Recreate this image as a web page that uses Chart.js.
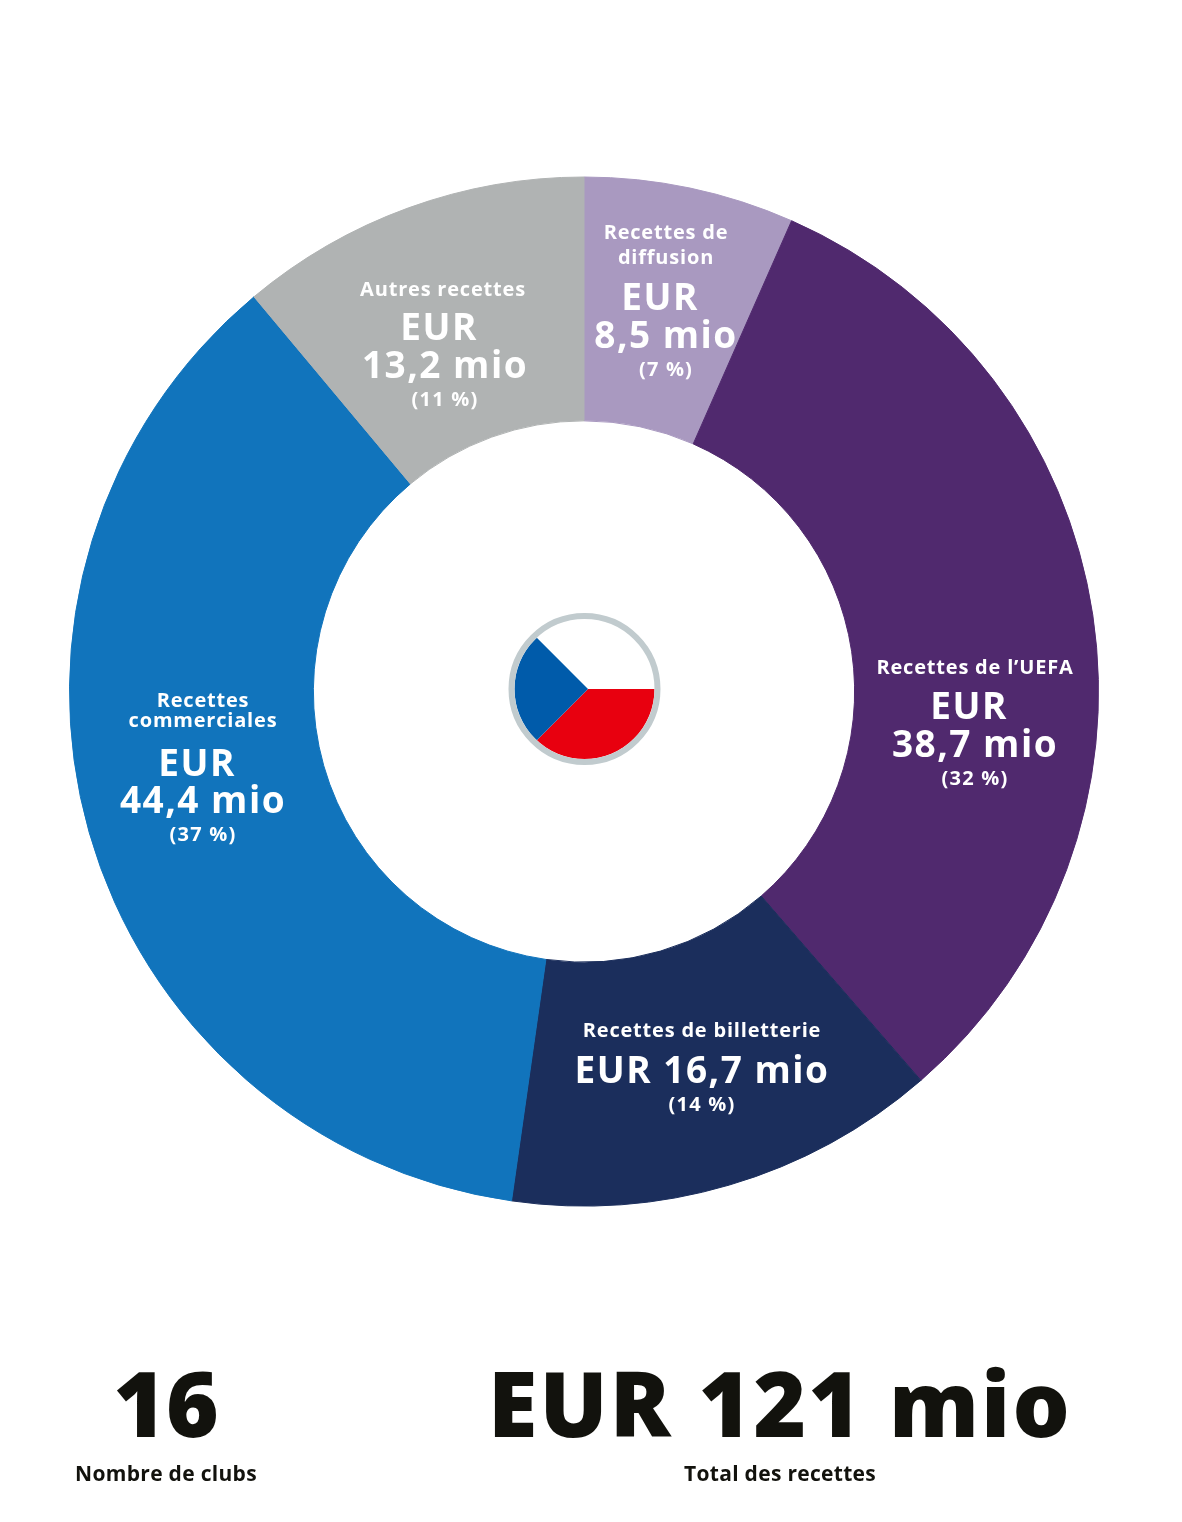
<!DOCTYPE html>
<html lang="fr">
<head>
<meta charset="utf-8">
<title>Recettes</title>
<script src="https://cdn.jsdelivr.net/npm/chart.js@4"></script>
<style>
  html, body { margin: 0; padding: 0; background: #fff; }
  #wrap { position: relative; width: 1182px; height: 1522px; overflow: hidden; }
  canvas { position: absolute; display: block; }
  #graficoFlag { left: 498px; top: 599px; }
</style>
</head>
<body>
<div id="wrap">
  <canvas id="grafico" width="1182" height="1522"></canvas>
  <canvas id="graficoFlag" width="180" height="180"></canvas>
</div>
<script>
const categories = ['Recettes de diffusion', 'Recettes de l’UEFA', 'Recettes de billetterie', 'Recettes commerciales', 'Autres recettes'];
// printed amounts and shares, used for the labels
const values = [8.5, 38.7, 16.7, 44.4, 13.2];
const percents = [7, 32, 14, 37, 11];
// slice sizes in degrees as measured on the picture (its arcs differ a little from the printed amounts)
const sliceDegrees = [23.8, 115.3, 49, 132, 39.9];
const colors = ['#a999c0', '#50296e', '#1b2e5c', '#1174bc', '#b0b3b3'];

const flagLabels = ['Blanc', 'Rouge', 'Bleu'];
const flagDegrees = [135, 135, 90];
const flagColors = ['#ffffff', '#e8000f', '#005baa'];

const clubCount = '16';
const clubCaption = 'Nombre de clubs';
const totalText = 'EUR 121 mio';
const totalCaption = 'Total des recettes';

const FONT = '"Open Sans", sans-serif';

function mio(i) {
    return String(values[i]).replace('.', ',') + ' mio';
}
function pct(i) {
    return '(' + percents[i] + ' %)';
}

// text, center x, baseline y, size, letter spacing
const TITLE = [20, 0.8];
const AMOUNT = [37, 1.5];
const SHARE = [20, 1.2];
const texts = [
    ['Recettes de', 666, 239, TITLE], ['diffusion', 666, 264, TITLE],
    ['EUR', 660, 310, AMOUNT], [mio(0), 666, 348, AMOUNT], [pct(0), 666, 376, SHARE],

    ['Autres recettes', 443, 296, TITLE],
    ['EUR', 439, 340, AMOUNT], [mio(4), 445, 378, AMOUNT], [pct(4), 445, 406, SHARE],

    ['Recettes de l’UEFA', 975, 674, TITLE],
    ['EUR', 969, 719, AMOUNT], [mio(1), 975, 757, AMOUNT], [pct(1), 975, 785, SHARE],

    ['Recettes de billetterie', 702, 1037, TITLE],
    ['EUR ' + mio(2), 702, 1083, AMOUNT], [pct(2), 702, 1111, SHARE],

    ['Recettes', 203, 707, TITLE], ['commerciales', 203, 727, TITLE],
    ['EUR', 197, 776, AMOUNT], [mio(3), 203, 813, AMOUNT], [pct(3), 203, 841, SHARE]
];

const labelsPlugin = {
    id: 'labels',
    afterDraw(chart) {
        const c = chart.ctx;
        c.save();
        c.textAlign = 'center';
        c.textBaseline = 'alphabetic';
        c.fillStyle = '#ffffff';
        texts.forEach(function(t) {
            c.font = '700 ' + t[3][0] + 'px ' + FONT;
            c.letterSpacing = t[3][1] + 'px';
            c.fillText(t[0], t[1], t[2]);
        });
        c.fillStyle = '#12120d';
        c.font = '800 90px ' + FONT;
        c.letterSpacing = '0px';
        c.fillText(clubCount, 166, 1437);
        c.letterSpacing = '2.2px';
        c.fillText(totalText, 780, 1437);
        c.font = '700 21px ' + FONT;
        c.letterSpacing = '0.3px';
        c.fillText(clubCaption, 166, 1481);
        c.fillText(totalCaption, 780, 1481);
        c.restore();
    }
};

new Chart(document.getElementById('grafico'), {
    type: 'doughnut',
    data: {
        labels: categories,
        // border in the slice's own colour hides the hairline between slices
        datasets: [{ data: sliceDegrees, backgroundColor: colors, borderColor: colors, borderWidth: 1 }]
    },
    options: {
        responsive: false,
        animation: false,
        devicePixelRatio: 1,
        cutout: '52.6%',
        layout: { padding: { left: 69, right: 83, top: 176, bottom: 315 } },
        plugins: { legend: { display: false }, tooltip: { enabled: false } }
    },
    plugins: [labelsPlugin]
});

// flag: the wedge tip sits right of the round badge's center, so clip the pie to the badge
const badge = { x: 86.5, y: 90, r: 70 };
const flagClip = {
    id: 'flagClip',
    beforeDatasetsDraw(chart) {
        const c = chart.ctx;
        c.save();
        c.beginPath();
        c.arc(badge.x, badge.y, badge.r, 0, Math.PI * 2);
        c.clip();
    },
    afterDatasetsDraw(chart) {
        const c = chart.ctx;
        c.restore();
        c.beginPath();
        c.arc(badge.x, badge.y, badge.r + 3, 0, Math.PI * 2);
        c.lineWidth = 6;
        c.strokeStyle = '#c1cbce';
        c.stroke();
    }
};

new Chart(document.getElementById('graficoFlag'), {
    type: 'pie',
    data: {
        labels: flagLabels,
        datasets: [{ data: flagDegrees, backgroundColor: flagColors, borderWidth: 0 }]
    },
    options: {
        responsive: false,
        animation: false,
        devicePixelRatio: 1,
        rotation: -45,
        plugins: { legend: { display: false }, tooltip: { enabled: false } }
    },
    plugins: [flagClip]
});
</script>
</body>
</html>
